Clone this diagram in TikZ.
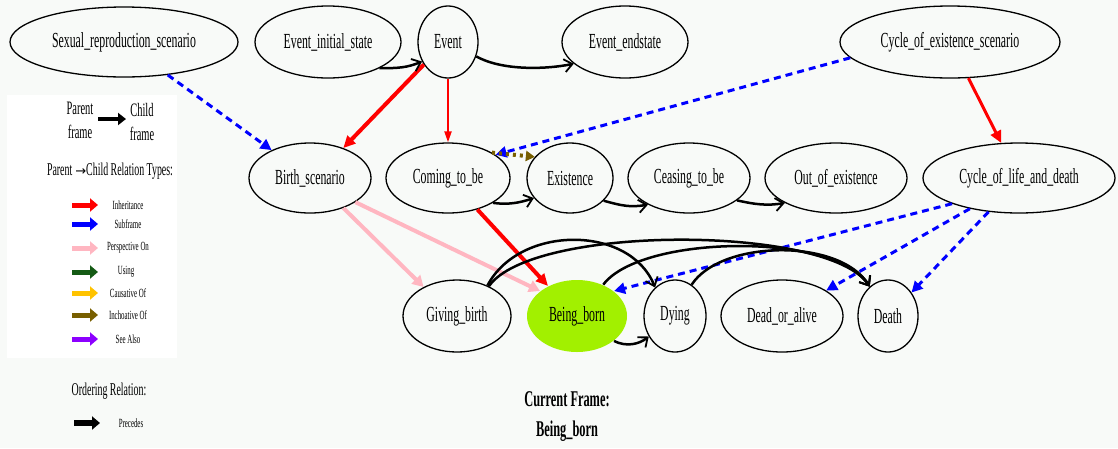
\documentclass[tikz,border=0pt]{standalone}
\usepackage{fontspec}
\setmainfont[FakeStretch=0.55]{Liberation Serif}
\newfontfamily\arrfont{DejaVu Sans}
\usetikzlibrary{shapes.geometric,arrows.meta}
\definecolor{bgc}{RGB}{248,250,248}
\definecolor{limec}{RGB}{162,240,0}
\definecolor{pinkc}{RGB}{255,182,193}
\definecolor{usingc}{RGB}{20,90,20}
\definecolor{causc}{RGB}{255,195,0}
\definecolor{inchc}{RGB}{120,95,0}
\definecolor{seec}{RGB}{140,0,255}
\newcommand\nfont{\fontsize{21.5}{23}\selectfont}
\newcommand\lfont{\fontsize{12.5}{14}\selectfont}
\newcommand\hfont{\fontsize{18}{20}\selectfont}
\newcommand\pfont{\fontsize{19}{24}\selectfont}
\newcommand\cfont{\fontsize{22.5}{30}\selectfont\bfseries}
\begin{document}
\begin{tikzpicture}[x=1pt,y=-1pt,
 fr/.style={ellipse,draw,line width=1.3pt,inner sep=0pt,font=\nfont},
 prec/.style={line width=2.5pt,-{Straight Barb[length=8pt,width=13pt,line width=1.8pt]}},
 inh/.style={red,-{Triangle[length=12pt,width=11pt]}},
 sub/.style={blue,line width=3pt,dash pattern=on 7pt off 5pt,-{Triangle[length=11pt,width=11pt]}},
 persp/.style={pinkc,line width=4pt,-{Triangle[length=11pt,width=12pt]}},
 lg/.style={line width=5pt,-{Triangle[length=8pt,width=13pt]}},
 ltxt/.style={font=\lfont}
 ]
\fill[bgc] (0,0) rectangle (1118,448);
\useasboundingbox (0,0) rectangle (1118,448);
\fill[white] (7,95) rectangle (177,358);

% top row
\node[fr,minimum width=228pt,minimum height=70pt] (sex) at (124,42) {Sexual\_reproduction\_scenario};
\node[fr,minimum width=146pt,minimum height=72pt] (eis) at (328,42) {Event\_initial\_state};
\node[fr,minimum width=60pt,minimum height=72pt] (ev) at (448,42) {Event};
\node[fr,minimum width=126pt,minimum height=72pt] (ees) at (625,42) {Event\_endstate};
\node[fr,minimum width=220pt,minimum height=72pt] (ces) at (950,42) {Cycle\_of\_existence\_scenario};
% middle row
\node[fr,minimum width=122pt,minimum height=70pt] (bs) at (310,178) {Birth\_scenario};
\node[fr,minimum width=124pt,minimum height=70pt] (cb) at (448,178) {Coming\_to\_be};
\node[fr,minimum width=86pt,minimum height=70pt] (ex) at (570,178) {Existence};
\node[fr,minimum width=122pt,minimum height=70pt] (ctb) at (689,178) {Ceasing\_to\_be};
\node[fr,minimum width=142pt,minimum height=70pt] (ooe) at (836,178) {Out\_of\_existence};
\node[fr,minimum width=192pt,minimum height=70pt] (cld) at (1019,178) {Cycle\_of\_life\_and\_death};
% bottom row
\node[fr,minimum width=108pt,minimum height=72pt] (gb) at (457,316) {Giving\_birth};
\node[fr,draw=none,fill=limec,minimum width=100pt,minimum height=72pt] (bb) at (577,316) {Being\_born};
\node[fr,minimum width=62pt,minimum height=72pt] (dy) at (675,316) {Dying};
\node[fr,minimum width=122pt,minimum height=72pt] (doa) at (782,316) {Dead\_or\_alive};
\node[fr,minimum width=60pt,minimum height=72pt] (de) at (888,316) {Death};

% relation edges
\draw[sub] (sex.-37) -- (bs.144);
\draw[inh,line width=4pt] (ev.-137) -- (bs.42);
\draw[inh,line width=2pt,-{Triangle[length=11pt,width=7pt]}] (ev.-90) -- (cb.90);
\draw[sub] (ces.189) -- (cb.26);
\draw[inchc,line width=4pt,dash pattern=on 3pt off 4pt,-{Triangle[length=9pt,width=10pt]}] (cb.30) -- (ex.149);
\draw[inh,line width=3pt] (ces.-63) -- (cld.117);
\draw[sub] (cld.201) -- (bb.34);
\draw[sub] (cld.212) -- (doa.30);
\draw[sub] (cld.228) -- (de.45);
\draw[persp] (bs.-42) -- (gb.139);
\draw[persp] (bs.-28) -- (bb.146);
\draw[inh,line width=4pt] (cb.-47) -- (bb.134);

% precedes edges
\draw[prec] (eis.-27) .. controls +(20,0) and +(-15,6) .. (ev.-143);
\draw[prec] (ev.-27) .. controls +(25,14) and +(-30,6) .. (ees.-157);
\draw[prec] (cb.-29) .. controls +(15,2) and +(-15,5) .. (ex.-151);
\draw[prec] (ex.-34) .. controls +(18,5) and +(-18,3) .. (ctb.-147);
\draw[prec] (ctb.-25) .. controls +(18,4) and +(-18,3) .. (ooe.-154);
\draw[prec] (bb.-34) .. controls +(12,6) and +(-10,8) .. (dy.-142);
\draw[prec] (gb.45) .. controls +(32,-61) and +(-25,-63) .. (dy.125);
\draw[prec] (gb.43) .. controls +(43,-62) and +(-40,-62) .. (de.122);
\draw[prec] (bb.50) .. controls +(37,-50) and +(-35,-55) .. (de.122);
\draw[prec] (dy.62) .. controls +(29,-45) and +(-30,-49) .. (de.122);

% legend
\node[font=\pfont,align=center] (lp) at (80,120) {Parent\\frame};
\node[font=\pfont,align=center] (lc) at (142,122) {Child\\frame};
\coordinate (pa) at (98,119);
\coordinate (pb) at (126,119);
\draw[line width=3.5pt,-{Triangle[length=8pt,width=12pt]}] (pa) -- (pb);
\node[font=\hfont] (lt) at (110,171) {Parent\,{\arrfont\fontsize{13}{14}\selectfont →}Child Relation Types:};

\coordinate (a1) at (72,205); \coordinate (b1) at (98,205);
\coordinate (a2) at (72,224); \coordinate (b2) at (98,224);
\coordinate (a3) at (72,248); \coordinate (b3) at (98,248);
\coordinate (a4) at (72,272); \coordinate (b4) at (98,272);
\coordinate (a5) at (72,293); \coordinate (b5) at (98,293);
\coordinate (a6) at (72,315); \coordinate (b6) at (98,315);
\coordinate (a7) at (72,339); \coordinate (b7) at (98,339);
\draw[lg,red] (a1) -- (b1);
\draw[lg,blue] (a2) -- (b2);
\draw[lg,pinkc] (a3) -- (b3);
\draw[lg,usingc] (a4) -- (b4);
\draw[lg,causc] (a5) -- (b5);
\draw[lg,inchc] (a6) -- (b6);
\draw[lg,seec] (a7) -- (b7);
\node[ltxt] (t1) at (128,205) {Inheritance};
\node[ltxt] (t2) at (128,224) {Subframe};
\node[ltxt] (t3) at (128,248) {Perspective On};
\node[ltxt] (t4) at (126,272) {Using};
\node[ltxt] (t5) at (128,293) {Causative Of};
\node[ltxt] (t6) at (128,315) {Inchoative Of};
\node[ltxt] (t7) at (128,339) {See Also};

\node[font=\hfont] (or) at (109,391) {Ordering Relation:};
\coordinate (pra) at (74,423); \coordinate (prb) at (100,423);
\draw[lg,line width=6pt] (pra) -- (prb);
\node[ltxt] (tp) at (131,423) {Precedes};

\node[font=\cfont,align=center] (cf) at (567,417) {Current Frame:\\Being\_born};
\end{tikzpicture}
\end{document}
